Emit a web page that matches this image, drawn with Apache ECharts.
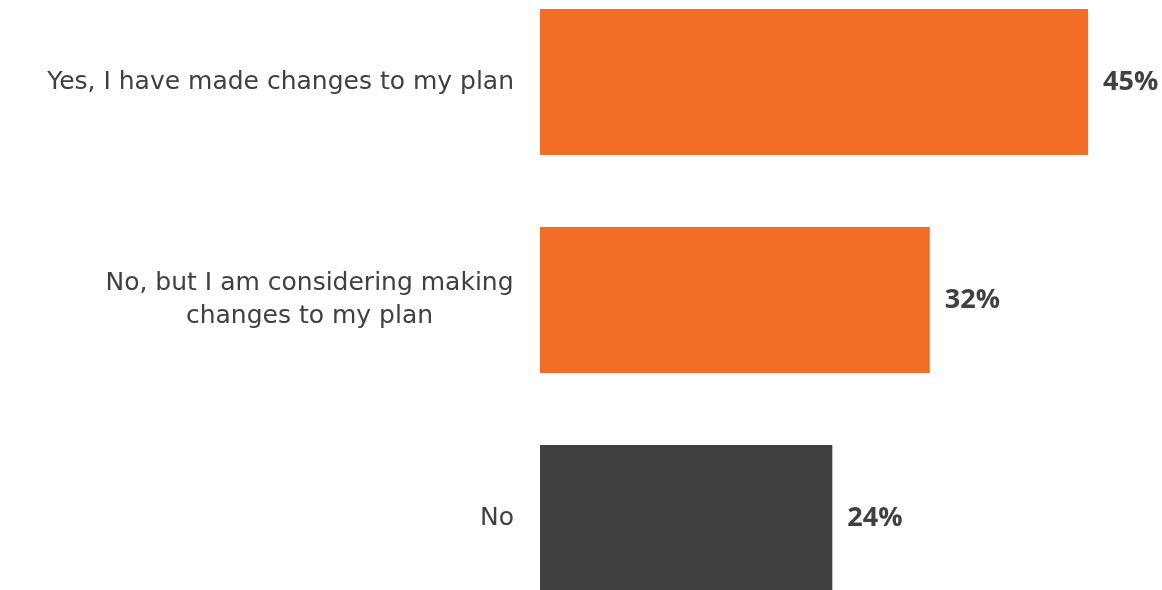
<!DOCTYPE html>
<html><head><meta charset="utf-8">
<script src="https://cdn.jsdelivr.net/npm/echarts@6/dist/echarts.min.js"></script>
<style>html,body{margin:0;padding:0;background:#fff}#c{width:1162px;height:590px}</style>
</head><body><div id="c"></div>
<script>
const categories = ['Yes, I have made changes to my plan', 'No, but I am considering making\nchanges to my plan', 'No'];
const values = [45, 32, 24];
const barColors = ['#F26D26', '#F26D26', '#404040'];

const catFamily = 'DejaVu Sans';
const catSize = 25;
const catFont = catSize + 'px "' + catFamily + '"';
function lineWidth(s){const cv=document.createElement('canvas').getContext('2d');cv.font=catFont;return cv.measureText(s).width;}
const chart = echarts.init(document.getElementById('c'));
chart.setOption({
  animation:false,
  grid:{left:540, right:13, top:-27, height:654, containLabel:false, outerBoundsMode:'none'},
  xAxis:{type:'value', min:0, max:50, show:false},
  yAxis:{type:'category', inverse:true, data:categories,
    axisLine:{show:false}, axisTick:{show:false},
    axisLabel:{margin:26, color:'#404040', fontFamily:catFamily, fontSize:catSize, lineHeight:33, align:'right',
      formatter:function(v){
        const lines=v.split('\n');
        if(lines.length<2) return v;
        return lines.map(l=>'{c|'+l+'}').join('\n');
      },
      rich:{c:{color:'#404040', fontFamily:catFamily, fontSize:catSize, lineHeight:33, align:'center', width:Math.ceil(Math.max(lineWidth('No, but I am considering making'),lineWidth('changes to my plan')))}}
    }},
  series:[{type:'bar', barWidth:146,
    data:values.map((v,i)=>({value:v,itemStyle:{color:barColors[i]}})),
    label:{show:true, position:'right', distance:15, formatter:'{c}%', color:'#404040', fontFamily:'Open Sans', fontWeight:'bold', fontSize:27}
  }]
});
</script></body></html>
